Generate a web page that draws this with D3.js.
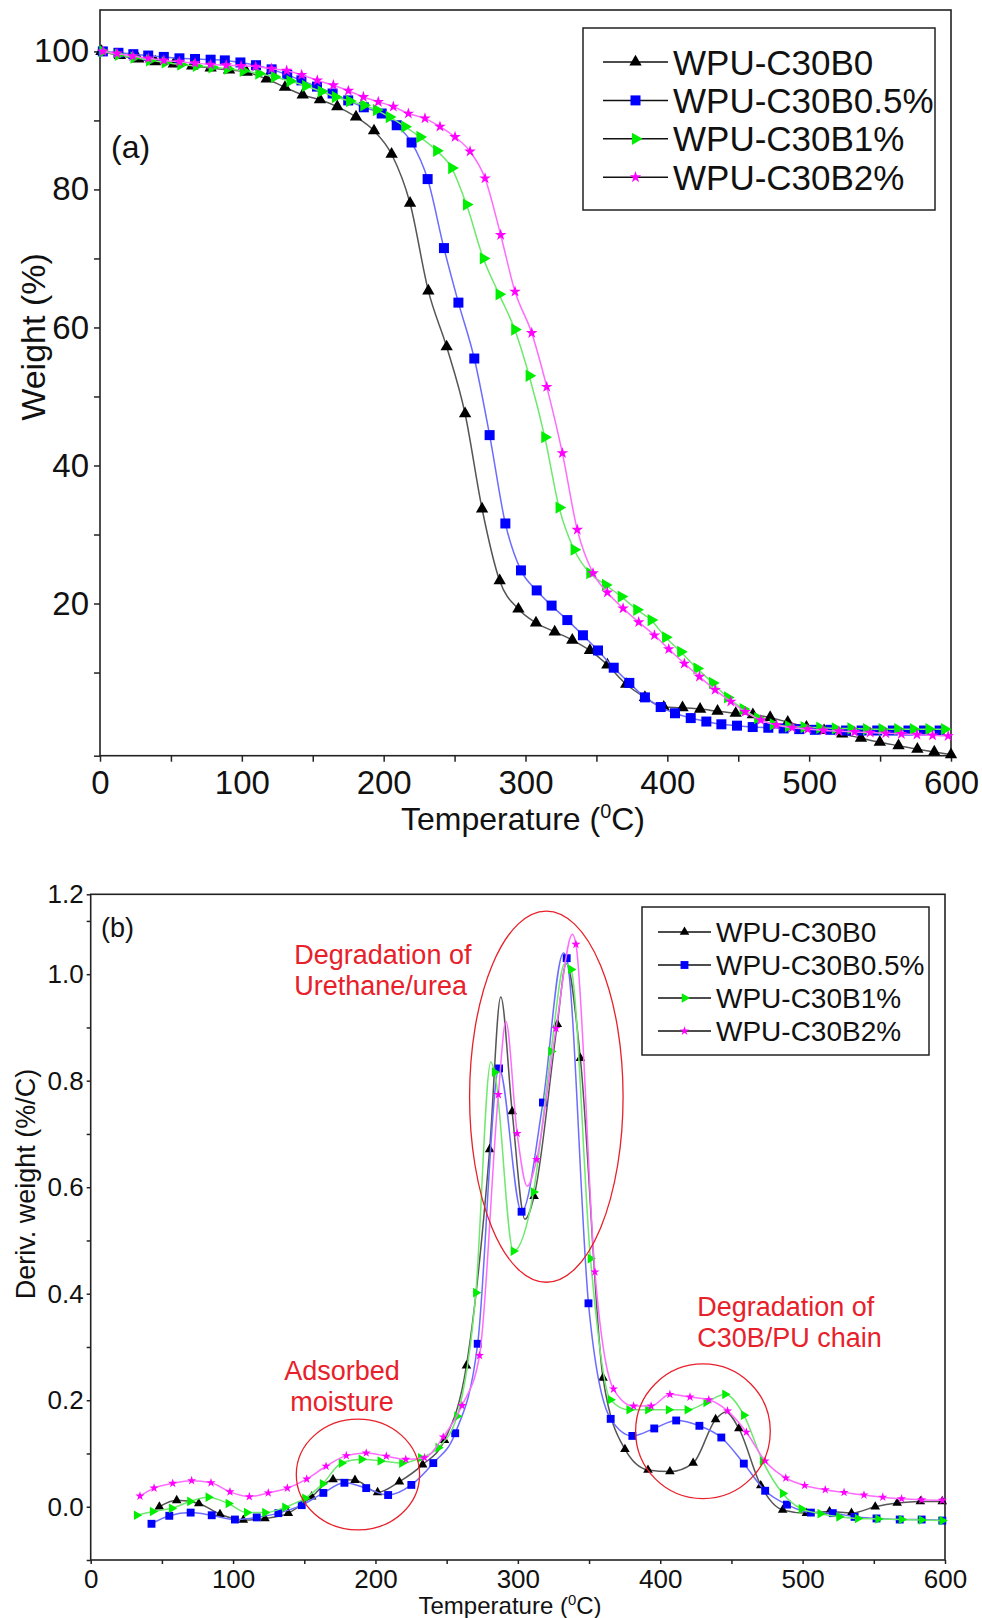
<!DOCTYPE html>
<html>
<head>
<meta charset="utf-8">
<script src="https://cdn.jsdelivr.net/npm/d3@7"></script>
<style>
  body { margin: 0; background: #fff; }
  svg { display: block; }
  text { font-family: "Liberation Sans", Arial, sans-serif; fill: #111; }
</style>
</head>
<body>
<svg id="fig" width="982" height="1618"></svg>
<script>
// ---- series names ----
var names = ["WPU-C30B0", "WPU-C30B0.5%", "WPU-C30B1%", "WPU-C30B2%"];

// ---- (a) TGA, weight % vs temperature (marker points) ----
var tgaB0 = [[1,100],[14,99.4],[27,98.9],[39,98.5],[52,98.2],[65,97.9],[78,97.6],[91,97.3],[103.4,97.0],[117.5,96.0],[130.4,94.8],[142.9,93.7],[155.1,93.0],[167.3,92.0],[180.5,90.5],[193.2,88.5],[205.6,85.1],[218.6,78.0],[231.5,65.3],[244.4,57.2],[257.4,47.5],[269.4,33.7],[281.8,23.3],[295,19.2],[307.4,17.2],[320.6,15.9],[333,14.7],[345.4,13.2],[357.7,11.1],[371,8.3],[384.2,6.4],[397.5,5.0],[410.7,4.9],[423.1,4.7],[435.4,4.4],[448.2,4.1],[460.3,3.9],[472.5,3.5],[484.9,2.8],[498.1,2.1],[510.5,1.6],[523.3,1.1],[536.5,0.5],[549.8,-0.1],[563,-0.6],[576.3,-1.1],[588.2,-1.5],[600,-1.9]];
var tgaB05 = [[2,100],[13,99.8],[23.5,99.6],[34,99.4],[45,99.2],[56,99.0],[67,98.9],[78,98.8],[88,98.7],[99,98.4],[110,98.0],[121,97.4],[132,96.6],[142,95.8],[153,94.9],[164,93.9],[175,92.9],[186,91.9],[198.6,91.0],[209.2,89.3],[219.7,86.8],[231,81.5],[242.5,71.5],[252.7,63.6],[263.9,55.5],[274.7,44.4],[285.8,31.6],[296.8,24.8],[307.9,21.9],[318.4,19.7],[329.5,17.6],[340.5,15.4],[351.1,13.2],[362.2,10.7],[373.2,8.5],[384.2,6.4],[395.3,5.0],[405.4,4.1],[416.5,3.4],[427.5,2.9],[438.1,2.5],[449.1,2.3],[460.2,2.1],[471.2,2.0],[482,1.9],[493,1.8],[504,1.7],[515,1.7],[526,1.6],[537,1.6],[548,1.6],[559,1.6],[570,1.6],[581,1.6],[592,1.6]];
var tgaB1 = [[2,100],[13,99.5],[24,99.1],[35,98.7],[46,98.4],[57,98.1],[68,97.9],[79,97.7],[90,97.5],[101,97.2],[112,96.8],[123,96.3],[134,95.7],[145,95.0],[156,94.2],[166,93.4],[176,92.8],[186,92.2],[195,91.5],[204,90.5],[215,89.1],[225.6,87.6],[237.4,85.6],[248,83.1],[258.4,77.8],[270.3,70.0],[281.4,64.8],[292.4,59.7],[302.6,53.0],[313.6,44.1],[323.7,33.9],[334.3,27.8],[345.4,24.4],[356.4,22.7],[367.5,21.0],[378.5,19.1],[388.6,17.6],[398.8,15.1],[409.4,13.0],[420.9,10.6],[431.9,8.5],[442.5,6.4],[453.5,4.7],[463.7,3.4],[474.7,2.5],[485.5,2.2],[496.5,2.1],[507.5,2.0],[518.5,1.9],[529.5,1.9],[540.5,1.8],[551.5,1.8],[562.5,1.8],[573.5,1.8],[584.5,1.8],[595.5,1.8]];
var tgaB2 = [[2,100],[12,99.7],[23,99.3],[34,99.0],[45,98.7],[56,98.5],[67,98.3],[78,98.1],[89,98.0],[99.5,97.9],[109.8,97.8],[121,97.5],[131.6,97.2],[142.2,96.6],[153.2,95.8],[164.5,95.1],[175.1,94.3],[185.7,93.4],[196.2,92.7],[206.8,92.0],[217.4,91.0],[229.1,90.3],[239.7,89.1],[250.3,87.6],[260.9,85.5],[271.5,81.6],[282.5,73.4],[292.6,65.2],[304.4,59.2],[315,51.4],[326,41.8],[336.5,30.7],[347.6,24.4],[357.7,21.6],[368.8,19.3],[379.8,17.3],[390.9,15.4],[401,13.4],[412,11.3],[422.6,9.4],[433.7,7.5],[444.7,5.8],[454.9,4.3],[465.9,3.1],[476.9,2.4],[488,2.0],[499,1.8],[510,1.6],[521,1.5],[532,1.4],[543,1.3],[554,1.2],[565,1.1],[576,1.0],[587,0.9],[598,0.8]];

// ---- (b) DTG, deriv. weight vs temperature (marker points + extra curve vertices) ----
var dtgB0 = [[48.2,0.0],[60.4,0.012],[75.9,0.006],[90.8,-0.014],[107.2,-0.025],[122.4,-0.022],[138.8,-0.012],[155.2,0.019],[170.2,0.051],[185.6,0.050],[201.5,0.027],[216.8,0.047],[233.1,0.079],[248.5,0.125],[263.9,0.265],[280.2,0.671],[296,0.742],[311.4,0.583],[327.7,0.906],[343.9,0.842],[359.8,0.242],[375.2,0.108],[391.4,0.069],[406.8,0.066],[423.1,0.082],[438.9,0.164],[455.2,0.147],[470.6,0.040],[486,-0.006],[502.7,-0.012],[518.9,-0.009],[534.3,-0.012],[551,0.0],[566.4,0.007],[582.7,0.010],[598.1,0.010]];
var dtgB0Peaks = [[288,0.957],[305,0.54],[334,1.02],[446,0.178]];
var dtgB05 = [[42.7,-0.032],[55.2,-0.017],[70.2,-0.011],[85,-0.016],[101.3,-0.024],[116.6,-0.020],[131.8,-0.012],[148.2,0.003],[163.4,0.026],[178.2,0.045],[193.5,0.035],[208.9,0.022],[225.2,0.041],[240.6,0.082],[256,0.138],[271.8,0.306],[286.8,0.823],[302.6,0.554],[317.6,0.759],[334.3,1.030],[349.6,0.382],[365.2,0.165],[380.4,0.133],[395.8,0.147],[411.2,0.162],[427.5,0.152],[442.9,0.130],[458.7,0.081],[473.7,0.030],[489,0.004],[505.8,-0.011],[521.2,-0.012],[536.5,-0.019],[551.9,-0.022],[568.2,-0.024],[583.6,-0.024],[598.1,-0.026]];
var dtgB05Peaks = [[332,1.04]];
var dtgB1 = [[32.3,-0.016],[43.5,-0.009],[56.9,-0.003],[69.7,0.010],[82.6,0.018],[96.7,0.006],[109.6,-0.011],[122.4,-0.011],[136.5,-0.001],[150.5,0.016],[162.9,0.043],[176.2,0.082],[190.2,0.089],[203.4,0.086],[218.6,0.082],[231.8,0.092],[244.1,0.111],[257.3,0.170],[270.5,0.402],[283.7,0.816],[296.9,0.480],[311,0.591],[323.3,0.855],[337.3,1.009],[351,0.466],[365,0.201],[378.2,0.182],[391.4,0.182],[405.9,0.182],[419.1,0.182],[432.3,0.196],[445.5,0.211],[458.7,0.172],[471.9,0.086],[486,0.025],[499.2,-0.004],[512.4,-0.013],[525.6,-0.019],[538.7,-0.022],[553,-0.023],[569.5,-0.024],[583.5,-0.025],[598,-0.026]];
var dtgB1Peaks = [[281,0.835],[333,1.02]];
var dtgB2 = [[34.6,0.020],[44.5,0.035],[57.6,0.044],[70.9,0.049],[84.5,0.045],[97.8,0.028],[111.4,0.019],[124.7,0.026],[138.1,0.035],[151.7,0.052],[165.3,0.076],[179.5,0.096],[193.5,0.101],[207.6,0.095],[221.3,0.089],[234.4,0.092],[247.6,0.131],[260.8,0.190],[273.1,0.284],[286.3,0.774],[299.5,0.701],[313.2,0.652],[326.8,0.898],[340.8,1.056],[354.1,0.441],[367.2,0.221],[381.3,0.189],[393.6,0.189],[406.8,0.211],[420.9,0.206],[434.1,0.201],[447.3,0.180],[460.5,0.140],[473.7,0.086],[488.2,0.054],[501.4,0.040],[515.9,0.032],[529.1,0.027],[543.1,0.022],[556.3,0.018],[569.5,0.015],[583.6,0.013],[598.1,0.012]];
var dtgB2Peaks = [[291.6,0.911],[306.6,0.602],[338.4,1.075]];

// ---- ticks ----
var tempMajor = [0, 100, 200, 300, 400, 500, 600];
var tempMinor = [50, 150, 250, 350, 450, 550];
var wtMajor = [20, 40, 60, 80, 100];
var wtMinor = [-2.05, 10, 30, 50, 70, 90];
var dwMajor = [0, 0.2, 0.4, 0.6, 0.8, 1.0, 1.2];
var dwMinor = [-0.1, 0.1, 0.3, 0.5, 0.7, 0.9, 1.1];

// ---- annotations of (b): text lines (first baseline) and ellipses, in data units ----
var noteText = [
  {lines: ["Degradation of", "Urethane/urea"], t: 143, v: 1.02, anchor: "start"},
  {lines: ["Adsorbed", "moisture"], t: 176.5, v: 0.238, anchor: "middle"},
  {lines: ["Degradation of", "C30B/PU chain"], t: 426, v: 0.359, anchor: "start"}
];
var noteRings = [
  {t: 320, v: 0.770, rt: 53.9, rv: 0.3485},
  {t: 187.7, v: 0.0605, rt: 43.3, rv: 0.104},
  {t: 430, v: 0.1417, rt: 47.3, rv: 0.1264}
];

var lineCol = ["#555555", "#6c6cff", "#6fe86f", "#ff6bff"];
var markCol = ["#000000", "#0000ff", "#00ee00", "#ff00ff"];
var symTypes = [d3.symbolTriangle, d3.symbolSquare, d3.symbolTriangle, d3.symbolStar];
var symRot = [0, 0, 90, 0];

var svg = d3.select("#fig");
svg.append("rect").attr("width", 982).attr("height", 1618).attr("fill", "#fff");

function merge(a, b) {
  return a.concat(b || []).sort(function(p, q) { return p[0] - q[0]; });
}

function panel(cfg) {
  var x = cfg.x, y = cfg.y;
  var g = svg.append("g");
  var x0 = x.range()[0], x1 = x.range()[1], y0 = y.range()[0], y1 = y.range()[1];

  // ticks
  var ax = g.append("g").attr("transform", "translate(0," + y0 + ")")
    .call(d3.axisBottom(x).tickValues(tempMajor).tickSize(cfg.tick).tickPadding(cfg.xPad).tickFormat(d3.format("d")));
  g.append("g").attr("transform", "translate(0," + y0 + ")")
    .call(d3.axisBottom(x).tickValues(tempMinor).tickSize(cfg.tick).tickFormat(""));
  var ay = g.append("g").attr("transform", "translate(" + x0 + ",0)")
    .call(d3.axisLeft(y).tickValues(cfg.yMajor).tickSize(cfg.tick).tickPadding(cfg.yPad).tickFormat(cfg.yFmt));
  g.append("g").attr("transform", "translate(" + x0 + ",0)")
    .call(d3.axisLeft(y).tickValues(cfg.yMinor).tickSize(cfg.tick).tickFormat(""));
  g.selectAll(".domain").remove();
  g.selectAll(".tick line").attr("stroke", "#222").attr("stroke-width", 1.5);
  ax.selectAll("text").attr("font-size", cfg.fs).attr("fill", "#111").attr("font-family", null);
  ay.selectAll("text").attr("font-size", cfg.fs).attr("fill", "#111").attr("font-family", null);

  // frame
  g.append("rect").attr("x", x0).attr("y", y1).attr("width", x1 - x0).attr("height", y0 - y1)
    .attr("fill", "none").attr("stroke", "#222").attr("stroke-width", 1.6);

  // series
  var line = d3.line().x(function(d) { return x(d[0]); }).y(function(d) { return y(d[1]); }).curve(d3.curveMonotoneX);
  cfg.series.forEach(function(s, i) {
    g.append("path").attr("d", line(merge(s, cfg.extra[i]))).attr("fill", "none")
      .attr("stroke", lineCol[i]).attr("stroke-width", 1.5);
    g.selectAll(null).data(s).enter().append("path")
      .attr("d", d3.symbol().type(symTypes[i]).size(cfg.sym[i]))
      .attr("transform", function(d) { return "translate(" + x(d[0]) + "," + y(d[1]) + ") rotate(" + symRot[i] + ")"; })
      .attr("fill", markCol[i]);
  });

  // legend
  var L = cfg.legend;
  g.append("rect").attr("x", L.x).attr("y", L.y).attr("width", L.w).attr("height", L.h)
    .attr("fill", "#fff").attr("stroke", "#222").attr("stroke-width", 1.5);
  names.forEach(function(n, i) {
    var ry = L.row0 + i * L.step;
    g.append("line").attr("x1", L.lx0).attr("x2", L.lx1).attr("y1", ry).attr("y2", ry)
      .attr("stroke", "#111").attr("stroke-width", 1.5);
    g.append("path").attr("d", d3.symbol().type(symTypes[i]).size(cfg.sym[i]))
      .attr("transform", "translate(" + (L.lx0 + L.lx1) / 2 + "," + ry + ") rotate(" + symRot[i] + ")")
      .attr("fill", markCol[i]);
    g.append("text").attr("x", L.tx).attr("y", ry).attr("dy", "0.36em")
      .attr("font-size", L.fs).text(n);
  });

  // axis titles
  var xt = g.append("text").attr("x", cfg.xTitle[0]).attr("y", cfg.xTitle[1])
    .attr("text-anchor", "middle").attr("font-size", cfg.xTitle[2]);
  xt.append("tspan").text("Temperature (");
  xt.append("tspan").attr("font-size", cfg.xTitle[2] * 0.62).attr("dy", -cfg.xTitle[2] * 0.38).text("0");
  xt.append("tspan").attr("dy", cfg.xTitle[2] * 0.38).text("C)");
  g.append("text").attr("transform", "translate(" + cfg.yTitle[0] + "," + cfg.yTitle[1] + ") rotate(-90)")
    .attr("text-anchor", "middle").attr("dy", "0.36em").attr("font-size", cfg.yTitle[2]).text(cfg.yTitle[3]);
  g.append("text").attr("x", cfg.tag[0]).attr("y", cfg.tag[1]).attr("font-size", cfg.tag[2]).text(cfg.tag[3]);
  return g;
}

var xTop = d3.scaleLinear().domain([0, 600]).range([100, 951]);
var yTop = d3.scaleLinear().domain([-2.05, 106]).range([755.7, 10]);
panel({
  x: xTop, y: yTop, tick: 6, xPad: 9, yPad: 5, fs: 33,
  yMajor: wtMajor, yMinor: wtMinor, yFmt: d3.format("d"),
  series: [tgaB0, tgaB05, tgaB1, tgaB2], extra: [[], [], [], []],
  sym: [66, 100, 66, 42],
  legend: {x: 583, y: 28, w: 352, h: 182, row0: 62, step: 38.4, lx0: 603, lx1: 668, tx: 673, fs: 35},
  xTitle: [523, 830, 32], yTitle: [33, 337, 34, "Weight (%)"], tag: [111, 158, 32, "(a)"]
});

var xBot = d3.scaleLinear().domain([0, 600]).range([90.7, 945]);
var yBot = d3.scaleLinear().domain([-0.1, 1.15]).range([1560, 894.3]).clamp(true);
var gb = panel({
  x: xBot, y: yBot, tick: 4, xPad: 6, yPad: 3, fs: 26,
  yMajor: dwMajor, yMinor: dwMinor, yFmt: d3.format(".1f"),
  series: [dtgB0, dtgB05, dtgB1, dtgB2], extra: [dtgB0Peaks, dtgB05Peaks, dtgB1Peaks, dtgB2Peaks],
  sym: [40, 62, 40, 26],
  legend: {x: 642, y: 907, w: 287, h: 148, row0: 932, step: 33, lx0: 658, lx1: 711, tx: 716, fs: 28},
  xTitle: [510, 1614, 24], yTitle: [25, 1184, 27, "Deriv. weight (%/C)"], tag: [101, 937, 27, "(b)"]
});

// red annotations
noteRings.forEach(function(r) {
  gb.append("ellipse").attr("cx", xBot(r.t)).attr("cy", yBot(r.v))
    .attr("rx", xBot(r.t + r.rt) - xBot(r.t)).attr("ry", yBot(r.v) - yBot(r.v + r.rv))
    .attr("fill", "none").attr("stroke", "#e8202a").attr("stroke-width", 1.3);
});
noteText.forEach(function(n) {
  n.lines.forEach(function(s, k) {
    gb.append("text").attr("x", xBot(n.t)).attr("y", yBot(n.v) + k * 31)
      .attr("text-anchor", n.anchor).attr("font-size", 27).style("fill", "#e8202a").text(s);
  });
});
</script>
</body>
</html>
